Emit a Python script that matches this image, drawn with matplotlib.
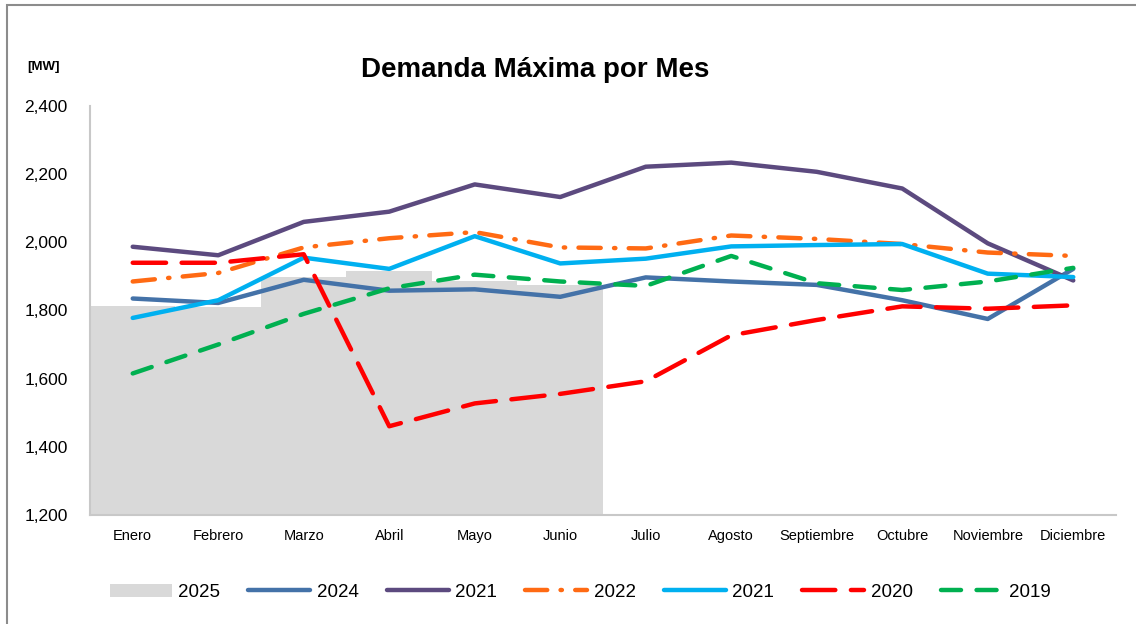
import matplotlib
matplotlib.use('Agg')
import matplotlib.pyplot as plt
from matplotlib.ticker import FuncFormatter
from matplotlib.patches import Rectangle
import numpy as np

plt.rcParams['font.family'] = ['Liberation Sans', 'DejaVu Sans']

meses = ['Enero', 'Febrero', 'Marzo', 'Abril', 'Mayo', 'Junio', 'Julio',
         'Agosto', 'Septiembre', 'Octubre', 'Noviembre', 'Diciembre']

d2025 = [1813, 1811, 1898, 1915, 1886, 1875]
d2024 = [1835, 1822, 1890, 1858, 1862, 1840, 1897, 1885, 1875, 1830, 1775, 1922]
d2021a = [1987, 1962, 2060, 2090, 2170, 2133, 2222, 2234, 2207, 2158, 1997, 1888]
d2022 = [1885, 1910, 1985, 2012, 2030, 1985, 1982, 2020, 2010, 1995, 1970, 1960]
d2021b = [1778, 1830, 1955, 1922, 2018, 1938, 1952, 1988, 1992, 1995, 1908, 1898]
d2020 = [1940, 1940, 1965, 1460, 1527, 1555, 1592, 1727, 1772, 1812, 1805, 1815]
d2019 = [1615, 1700, 1790, 1865, 1905, 1885, 1872, 1960, 1880, 1860, 1885, 1925]

x = np.arange(len(meses))

fig = plt.figure(figsize=(11.36, 6.24), dpi=100)
ax = fig.add_axes([0.0792, 0.175, 0.9032, 0.655])

# outer frame like the spreadsheet chart area
fig.patches.append(Rectangle((0.006, -0.01), 1.1, 1.0 - 0.008 + 0.01, transform=fig.transFigure,
                             fill=False, edgecolor='#8c8c8c', linewidth=1.5))

ax.bar(np.arange(len(d2025)), d2025, width=1.0, color='#d9d9d9', label='2025', zorder=1)

lw = 3.2
ax.plot(x, d2024, color='#4472a8', lw=lw, solid_capstyle='round', label='2024', zorder=3)
ax.plot(x, d2021a, color='#5c4a7f', lw=lw, solid_capstyle='round', label='2021', zorder=3)
ax.plot(x, d2022, color='#ff6a13', lw=lw, dashes=(5, 3, 0.3, 3), dash_capstyle='round',
        label='2022', zorder=3)
ax.plot(x, d2021b, color='#00b0f0', lw=lw, solid_capstyle='round', label='2021', zorder=3)
ax.plot(x, d2020, color='#ff0000', lw=lw, dashes=(7.5, 3.5), dash_capstyle='round',
        label='2020', zorder=3)
ax.plot(x, d2019, color='#00b050', lw=lw, dashes=(4.5, 3.5), dash_capstyle='round',
        label='2019', zorder=3)

ax.set_xlim(-0.5, 11.5)
ax.set_ylim(1200, 2400)
ax.set_yticks(np.arange(1200, 2401, 200))
ax.yaxis.set_major_formatter(FuncFormatter(lambda v, p: '{:,.0f}'.format(v)))
ax.set_xticks(x)
ax.set_xticklabels(meses, fontsize=10.5)
ax.tick_params(axis='y', labelsize=12.5, length=0, pad=16)
ax.tick_params(axis='x', length=0, pad=10)

for s in ['top', 'right']:
    ax.spines[s].set_visible(False)
for s in ['left', 'bottom']:
    ax.spines[s].set_color('#c8c8c8')
    ax.spines[s].set_linewidth(1.5)

fig.text(0.471, 0.888, 'Demanda Máxima por Mes', ha='center', va='center',
         fontsize=20, fontweight='bold')
fig.text(0.024, 0.892, '[MW]', ha='left', va='center', fontsize=9.5, fontweight='bold')

# bars first in the legend, then the lines
handles, labels = ax.get_legend_handles_labels()
order = [6, 0, 1, 2, 3, 4, 5]
fig.legend([handles[i] for i in order], [labels[i] for i in order],
           loc='center', bbox_to_anchor=(0.511, 0.051), ncol=7, frameon=False,
           fontsize=13.5, handlelength=3.3, handletextpad=0.35, columnspacing=1.5)

fig.savefig('out.png', dpi=100)
